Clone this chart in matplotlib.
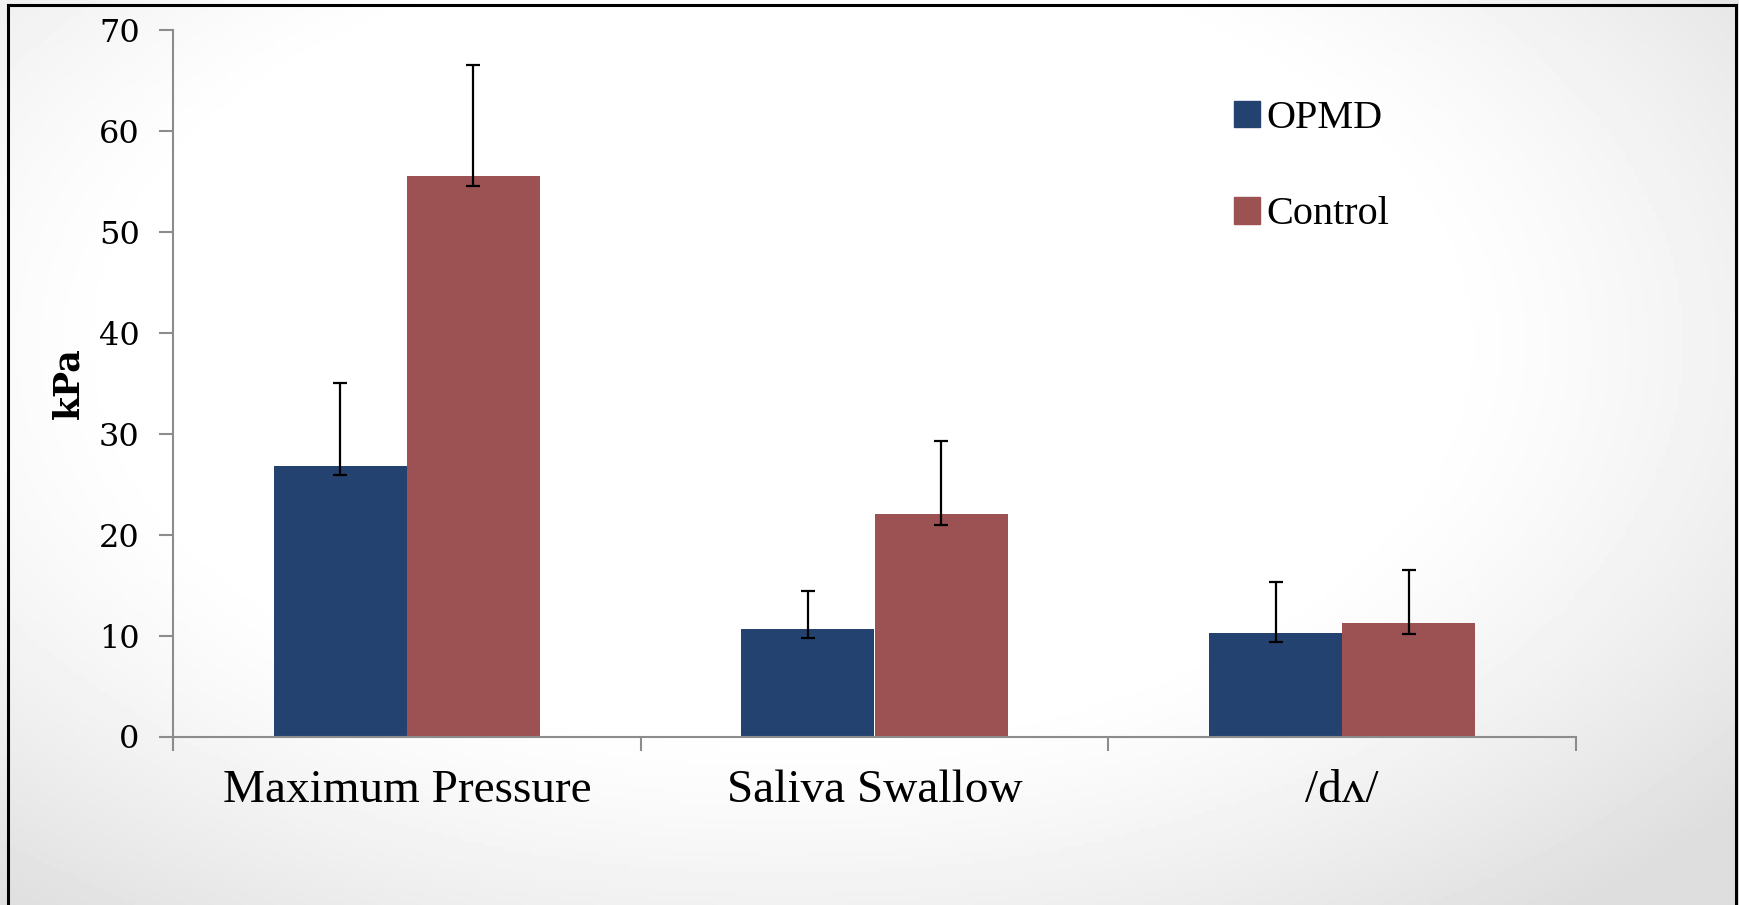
import numpy as np
import matplotlib
matplotlib.use("Agg")
import matplotlib.pyplot as plt
from matplotlib.patches import Patch

categories = ["Maximum Pressure", "Saliva Swallow", "/dʌ/"]
groups = ["OPMD", "Control"]
opmd = [26.8, 10.7, 10.3]
control = [55.5, 22.0, 11.2]
# error bars as drawn: short below the bar top, long above
opmd_lo = [0.9, 0.9, 0.9]
opmd_hi = [8.2, 3.7, 5.0]
control_lo = [1.0, 1.0, 1.0]
control_hi = [11.0, 7.3, 5.3]
yticks = [0, 10, 20, 30, 40, 50, 60, 70]

C_OPMD = "#24426F"
C_CTRL = "#9C5253"
SERIF = ["Liberation Serif", "DejaVu Serif"]

W, H = 1739, 905
fig = plt.figure(figsize=(W / 100, H / 100), dpi=100)

# slide background: white centre fading to light grey, darkest bottom-right
bg = fig.add_axes([0, 0, 1, 1])
yy, xx = np.mgrid[0:1:200j, 0:1:400j]
r = np.sqrt(((xx - 0.45) / 0.75) ** 2 + ((yy - 0.62) / 0.85) ** 2)
shade = 1.0 - 0.13 * np.clip((r - 0.5) / 0.45, 0, 1) ** 1.3
bg.imshow(shade, cmap="gray", vmin=0, vmax=1, aspect="auto",
          extent=[0, 1, 0, 1], origin="lower")
# slide frame
bg.plot([8 / W, 8 / W], [0, 1 - 5 / H], color="black", lw=2.2)
bg.plot([8 / W, 1736 / W], [1 - 5 / H, 1 - 5 / H], color="black", lw=2.2)
bg.plot([1736 / W, 1736 / W], [0, 1 - 5 / H], color="black", lw=2.2)
bg.set_xlim(0, 1); bg.set_ylim(0, 1)
bg.axis("off")

ax = fig.add_axes([173 / W, 1 - 736.5 / H, (1576 - 173) / W, (736.5 - 30) / H])
ax.patch.set_alpha(0)

x = np.arange(len(categories))
bw = 0.285
ek = dict(ecolor="black", elinewidth=1.6, capsize=5, capthick=1.6)
ax.bar(x - bw / 2, opmd, bw, color=C_OPMD, yerr=[opmd_lo, opmd_hi],
       error_kw=ek, label=groups[0], zorder=2)
ax.bar(x + bw / 2, control, bw, color=C_CTRL, yerr=[control_lo, control_hi],
       error_kw=ek, label=groups[1], zorder=2)

ax.set_xlim(-0.5, len(categories) - 0.5)
ax.set_ylim(0, 70)
ax.set_yticks(yticks)
ax.set_yticklabels([str(v) for v in yticks], family="DejaVu Serif", fontsize=23)
ax.set_xticks(x)
ax.set_xticklabels(categories, family=SERIF, fontsize=34)
ax.set_xticks(np.arange(-0.5, len(categories)), minor=True)
ax.tick_params(axis="x", which="major", length=0, pad=24)
ax.tick_params(axis="x", which="minor", length=10, width=1.5, color="#8c8c8c")
ax.tick_params(axis="y", length=10, width=1.5, color="#8c8c8c", pad=14)

for s in ["top", "right"]:
    ax.spines[s].set_visible(False)
for s in ["left", "bottom"]:
    ax.spines[s].set_color("#8c8c8c")
    ax.spines[s].set_linewidth(1.5)

ax.set_ylabel("kPa", family="DejaVu Serif", fontweight="bold", fontsize=25,
              labelpad=10)

handles = [Patch(color=C_OPMD), Patch(color=C_CTRL)]
leg = fig.legend(handles, groups, loc="upper left",
                 bbox_to_anchor=(1218 / W, 1 - 84 / H), frameon=False,
                 prop={"family": SERIF, "size": 29}, handlelength=0.65,
                 handleheight=0.65, handletextpad=0.15, labelspacing=1.47,
                 borderaxespad=0)

fig.savefig("out.png", dpi=100)
